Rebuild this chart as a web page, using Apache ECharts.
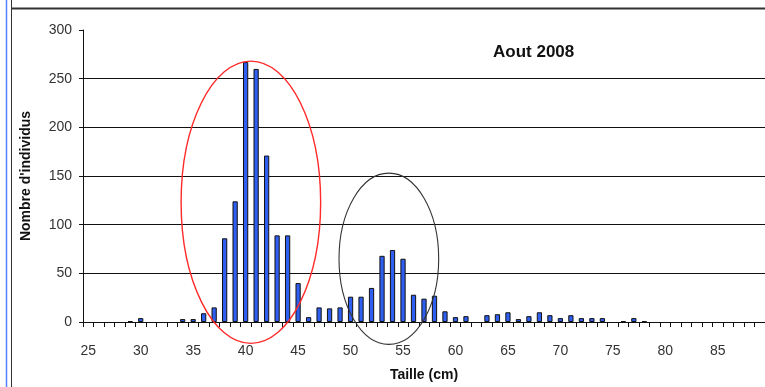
<!DOCTYPE html>
<html>
<head>
<meta charset="utf-8">
<script src="https://cdn.jsdelivr.net/npm/echarts@6/dist/echarts.min.js"></script>
<style>
  html, body { margin: 0; padding: 0; background: #fff; }
  #chart { width: 765px; height: 387px; }
</style>
</head>
<body>
<div id="chart"></div>
<script>
// tailles 25..89 cm
var tailles = [];
for (var t = 25; t <= 89; t++) tailles.push(String(t));

// nombre d'individus par taille
var effectifs = [
  0, 0, 0, 0, 1, 4, 0, 0, 0, 3,        // 25-34
  3, 9, 15, 86, 124, 267, 260, 171, 89, 89, // 35-44
  40, 5, 15, 14, 15, 26, 26, 35, 68, 74,    // 45-54
  65, 28, 24, 27, 11, 5, 6, 0, 7, 8,        // 55-64
  10, 3, 6, 10, 7, 4, 7, 4, 4, 4,           // 65-74
  0, 1, 4, 1, 0, 0, 0, 0, 0, 0,             // 75-84
  0, 0, 0, 0, 0                             // 85-89
];

var yTicks = [0, 50, 100, 150, 200, 250, 300];

var chart = echarts.init(document.getElementById('chart'));
var font = 'Liberation Sans, Arial, sans-serif';

var option = {
  animation: false,
  backgroundColor: '#fff',
  grid: { left: 83, top: 30, width: 685, height: 297 },
  title: {
    text: 'Aout 2008',
    left: 488, top: 39,
    textStyle: { fontFamily: font, fontSize: 17, fontWeight: 'bold', color: '#111' }
  },
  xAxis: {
    type: 'category',
    data: tailles,
    name: 'Taille (cm)',
    nameLocation: 'middle',
    nameGap: 46,
    nameTextStyle: { fontFamily: font, fontSize: 14, fontWeight: 'bold', color: '#111' },
    axisLine: { show: true, lineStyle: { color: '#111', width: 1 } },
    axisTick: { show: true, interval: 0, length: 5, lineStyle: { color: '#111', width: 1 } },
    axisLabel: { interval: 4, margin: 22, fontFamily: font, fontSize: 14, color: '#333' },
    splitLine: { show: false }
  },
  yAxis: {
    type: 'value',
    min: yTicks[0], max: yTicks[yTicks.length - 1], interval: 50,
    name: "Nombre d'individus",
    nameLocation: 'middle',
    nameGap: 50,
    nameTextStyle: { fontFamily: font, fontSize: 14, fontWeight: 'bold', color: '#111' },
    axisLine: { show: true, lineStyle: { color: '#111' } },
    axisTick: { show: true, length: 4, lineStyle: { color: '#111' } },
    axisLabel: { margin: 11, fontFamily: font, fontSize: 14, color: '#333' },
    splitLine: { show: true, showMaxLine: false, lineStyle: { color: '#111', width: 1 } }
  },
  series: [{
    type: 'bar',
    // pas de barre pour les tailles sans individu
    data: effectifs.map(function (v) { return v === 0 ? '-' : v; }),
    barWidth: '50%',
    itemStyle: { color: '#2f5ff0', borderColor: '#111', borderWidth: 1 }
  }],
  graphic: [
    { type: 'line', shape: { x1: 6.5, y1: 0, x2: 6.5, y2: 387 }, style: { stroke: '#5580ff', lineWidth: 1.5 } },
    { type: 'line', shape: { x1: 11.5, y1: 0, x2: 11.5, y2: 387 }, style: { stroke: '#333', lineWidth: 1 } },
    { type: 'line', shape: { x1: 11, y1: 8.5, x2: 765, y2: 8.5 }, style: { stroke: '#333', lineWidth: 2 } }
  ]
};

chart.setOption(option);

// ellipses d'annotation, placées via les axes
function ellipse(cat, off, val, rxCats, ryVals, color, w) {
  var p0 = chart.convertToPixel({ xAxisIndex: 0 }, tailles[0]);
  var p1 = chart.convertToPixel({ xAxisIndex: 0 }, tailles[1]);
  var step = p1 - p0;
  var cx = chart.convertToPixel({ xAxisIndex: 0 }, cat) + off * step;
  var cy = chart.convertToPixel({ yAxisIndex: 0 }, val);
  var ry = Math.abs(chart.convertToPixel({ yAxisIndex: 0 }, val + ryVals) - cy);
  return {
    type: 'ellipse',
    shape: { cx: cx, cy: cy, rx: rxCats * step, ry: ry },
    style: { fill: 'none', stroke: color, lineWidth: w },
    z: 100
  };
}

chart.setOption({
  graphic: option.graphic.concat([
    ellipse('40', 0.5, 123, 6.65, 145, '#ff2a2a', 1.4),
    ellipse('53', 0.65, 65, 4.75, 88, '#333', 1.1)
  ])
});
</script>
</body>
</html>
